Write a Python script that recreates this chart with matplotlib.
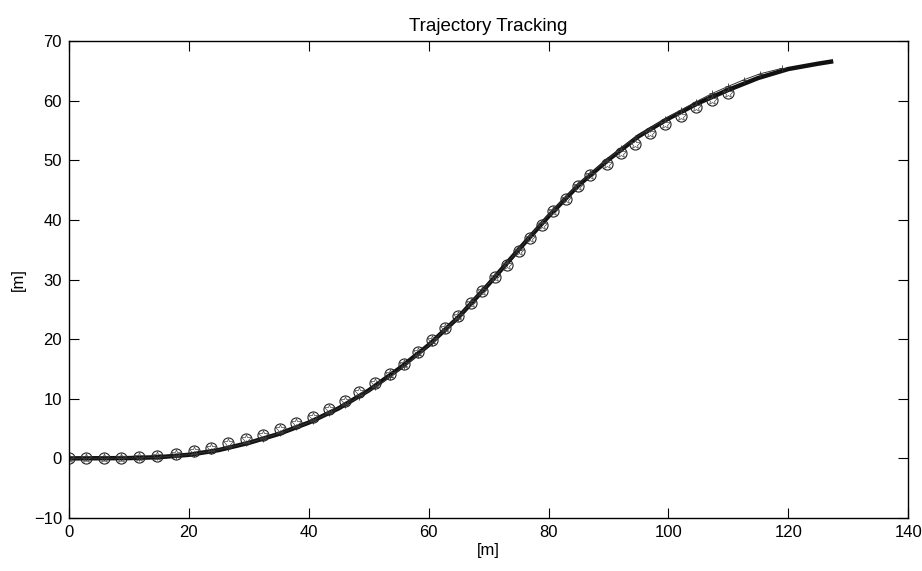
import matplotlib
matplotlib.use("Agg")
import matplotlib.pyplot as plt

plt.rcParams['font.family'] = ['Liberation Sans', 'DejaVu Sans']

# vehicle path (thick line)
path_x = [0, 10, 15, 20, 25, 30, 35, 40, 45, 50, 55, 60, 65, 70, 75, 80,
          85, 90, 95, 100, 105, 110, 115, 120, 125, 127.5]
path_y = [0, 0.05, 0.2, 0.6, 1.4, 2.6, 4.1, 6.0, 8.4, 11.4, 15.0, 19.0, 23.7,
          29.2, 35.0, 40.6, 45.8, 50.1, 54.0, 57.0, 59.6, 61.8, 63.8, 65.3,
          66.2, 66.6]

# reference waypoints (circles)
ref_x = [0, 2.9, 5.8, 8.7, 11.7, 14.7, 17.8, 20.8, 23.7, 26.6, 29.5, 32.3,
         35.2, 37.9, 40.7, 43.4, 46.0, 48.4, 51.0, 53.5, 55.9, 58.3, 60.5,
         62.7, 64.9, 67.0, 68.9, 71.1, 73.0, 75.0, 76.9, 78.9, 80.8, 82.9,
         85.0, 87.0, 89.7, 92.1, 94.4, 96.9, 99.4, 102.1, 104.6, 107.3, 110.0]
ref_y = [0, 0, 0.05, 0.1, 0.2, 0.35, 0.8, 1.3, 1.8, 2.5, 3.2, 3.9, 4.9, 5.9,
         7.0, 8.2, 9.6, 11.1, 12.6, 14.2, 15.9, 17.8, 19.8, 21.8, 23.8, 26.0,
         28.0, 30.4, 32.4, 34.7, 36.9, 39.1, 41.5, 43.5, 45.6, 47.5, 49.4,
         51.2, 52.8, 54.5, 56.1, 57.5, 58.9, 60.1, 61.3]

# estimated positions (thin line)
est_x = ref_x + [112.6, 115.3, 118.9]
est_y = [0, 0, 0, 0.03, 0.08, 0.18, 0.42, 0.72, 1.2, 1.8, 2.5, 3.3, 4.2,
         5.2, 6.3, 7.6, 8.9, 10.3, 11.9, 13.6, 15.5, 17.4, 19.4, 21.6, 23.6,
         26.0, 28.1, 30.5, 32.7, 35.0, 37.3, 39.6, 41.7, 43.8, 46.0, 47.8,
         50.0, 52.0, 53.7, 55.3, 56.9, 58.4, 59.8, 61.2, 62.4, 63.5, 64.5,
         65.4]

fig = plt.figure(figsize=(9.22, 5.71), dpi=100)
ax = fig.add_axes([0.0748, 0.0928, 0.9102, 0.8354])

ax.plot(path_x, path_y, color='#111111', linewidth=3.2, solid_capstyle='butt')
ax.plot(est_x, est_y, color='#333333', linewidth=0.7, marker='+',
        markersize=5, markeredgewidth=0.6)
ax.plot(ref_x, ref_y, linestyle='none', marker='o', markersize=8,
        markerfacecolor='none', markeredgecolor='#222222', markeredgewidth=0.8)
ax.plot(ref_x, ref_y, linestyle='none', marker='*', markersize=7,
        markerfacecolor='none', markeredgecolor='#444444', markeredgewidth=0.5)

ax.set_xlim(0, 140)
ax.set_ylim(-10, 70)
ax.set_xticks(range(0, 141, 20))
ax.set_yticks(range(-10, 71, 10))
ax.set_yticklabels(['\u221210'] + [str(v) for v in range(0, 71, 10)])
ax.tick_params(direction='in', length=7, width=0.8, top=True, right=True,
               labelsize=12, pad=5)
for s in ax.spines.values():
    s.set_linewidth(1.0)

ax.set_title('Trajectory Tracking', fontsize=13.5, pad=7)
ax.set_xlabel('[m]', fontsize=12, labelpad=2)
ax.set_ylabel('[m]', fontsize=12, labelpad=6)

fig.savefig('out.png', dpi=100)
